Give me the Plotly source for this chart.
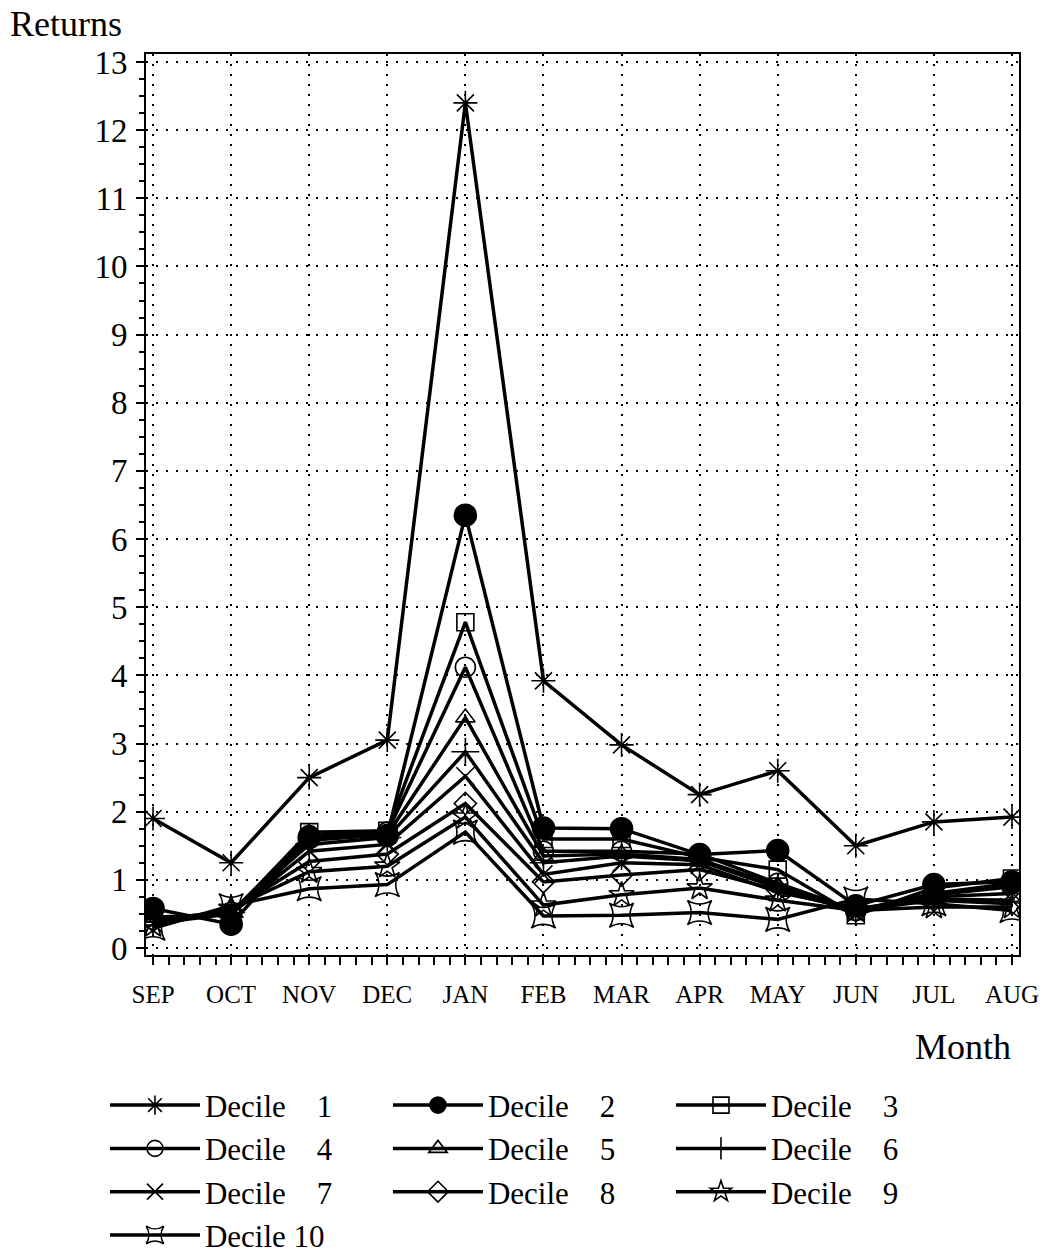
import plotly.graph_objects as go

months = ["SEP", "OCT", "NOV", "DEC", "JAN", "FEB", "MAR", "APR", "MAY", "JUN", "JUL", "AUG"]

decile_1 = [1.90, 1.25, 2.50, 3.05, 12.40, 3.92, 2.98, 2.25, 2.60, 1.50, 1.85, 1.92]
decile_2 = [0.58, 0.35, 1.62, 1.65, 6.35, 1.76, 1.75, 1.37, 1.43, 0.62, 0.93, 0.97]
decile_3 = [0.45, 0.50, 1.70, 1.72, 4.78, 1.60, 1.60, 1.33, 1.15, 0.48, 0.88, 1.02]
decile_4 = [0.42, 0.52, 1.65, 1.70, 4.12, 1.42, 1.42, 1.38, 0.95, 0.55, 0.80, 0.95]
decile_5 = [0.40, 0.50, 1.58, 1.66, 3.38, 1.35, 1.38, 1.30, 0.92, 0.55, 0.78, 0.90]
decile_6 = [0.38, 0.52, 1.52, 1.62, 2.88, 1.25, 1.35, 1.28, 0.88, 0.55, 0.75, 0.80]
decile_7 = [0.36, 0.50, 1.42, 1.52, 2.52, 1.08, 1.25, 1.22, 0.82, 0.58, 0.72, 0.70]
decile_8 = [0.40, 0.55, 1.27, 1.38, 2.12, 0.97, 1.07, 1.15, 0.85, 0.55, 0.70, 0.65]
decile_9 = [0.33, 0.58, 1.12, 1.20, 1.92, 0.63, 0.78, 0.88, 0.70, 0.55, 0.60, 0.60]
decile_10 = [0.29, 0.62, 0.87, 0.93, 1.70, 0.47, 0.48, 0.52, 0.42, 0.72, 0.65, 0.55]

series = [decile_1, decile_2, decile_3, decile_4, decile_5,
          decile_6, decile_7, decile_8, decile_9, decile_10]
labels = ["Decile\u00a0\u00a0\u00a0\u00a01", "Decile\u00a0\u00a0\u00a0\u00a02", "Decile\u00a0\u00a0\u00a0\u00a03",
          "Decile\u00a0\u00a0\u00a0\u00a04", "Decile\u00a0\u00a0\u00a0\u00a05", "Decile\u00a0\u00a0\u00a0\u00a06",
          "Decile\u00a0\u00a0\u00a0\u00a07", "Decile\u00a0\u00a0\u00a0\u00a08", "Decile\u00a0\u00a0\u00a0\u00a09",
          "Decile\u00a010"]
symbols = ["asterisk-open", "circle", "square-open", "circle-open", "triangle-up-open",
           "cross-thin-open", "x-thin-open", "diamond-open", "star-open", "star-square-open"]
sizes = [20, 22, 17, 20, 17, 20, 18, 17, 19, 22]

FONT = "Liberation Serif"
x_idx = list(range(len(months)))

fig = go.Figure()
for vals, name, sym, sz in zip(series, labels, symbols, sizes):
    fig.add_trace(go.Scatter(
        x=x_idx, y=vals, mode="lines+markers", name=name,
        line=dict(color="black", width=3.5),
        marker=dict(symbol=sym, size=sz, color="black", line=dict(color="black", width=1.6)),
    ))

fig.update_layout(
    width=1048, height=1259,
    margin=dict(l=146, r=29, t=54, b=304, autoexpand=False),
    paper_bgcolor="white", plot_bgcolor="white",
    font=dict(family=FONT, color="black"),
    showlegend=True,
    legend=dict(
        orientation="h", x=-0.047, y=-0.137, xanchor="left", yanchor="top",
        font=dict(family=FONT, size=31, color="black"),
        entrywidth=178, entrywidthmode="pixels", itemwidth=90,
        tracegroupgap=0, traceorder="normal",
    ),
    xaxis=dict(
        type="linear", range=[-0.09, 11.09],
        tickmode="array", tickvals=x_idx, ticktext=months,
        tickfont=dict(family=FONT, size=25),
        ticks="outside", ticklen=8, tickwidth=1.5, tickcolor="black",
        minor=dict(dtick=0.2, tick0=0, ticks="outside", ticklen=8, tickwidth=1.5, tickcolor="black", showgrid=False),
        showgrid=True, gridcolor="black", gridwidth=1.5, griddash="2px,8px",
        showline=True, linecolor="black", linewidth=2, mirror=True,
        zeroline=False, ticklabelstandoff=8,
    ),
    yaxis=dict(
        range=[-0.103, 13.117],
        tickmode="linear", tick0=0, dtick=1,
        tickfont=dict(family=FONT, size=33),
        ticks="outside", ticklen=8, tickwidth=1.5, tickcolor="black",
        minor=dict(dtick=0.25, tick0=0, ticks="outside", ticklen=5, tickwidth=1.5, tickcolor="black", showgrid=False),
        showgrid=True, gridcolor="black", gridwidth=1.5, griddash="2px,8px",
        showline=True, linecolor="black", linewidth=2, mirror=True,
        zeroline=False, ticklabelstandoff=2,
    ),
    annotations=[
        dict(text="Returns", xref="paper", yref="paper", x=-0.158, y=1 + (54 - 2) / 901,
             xanchor="left", yanchor="top", showarrow=False, font=dict(family=FONT, size=36)),
        dict(text="Month", xref="paper", yref="paper", x=1 - 6 / 873, y=-(1025 - 955) / 901,
             xanchor="right", yanchor="top", showarrow=False, font=dict(family=FONT, size=36)),
    ],
)

fig.write_html("out.html")
